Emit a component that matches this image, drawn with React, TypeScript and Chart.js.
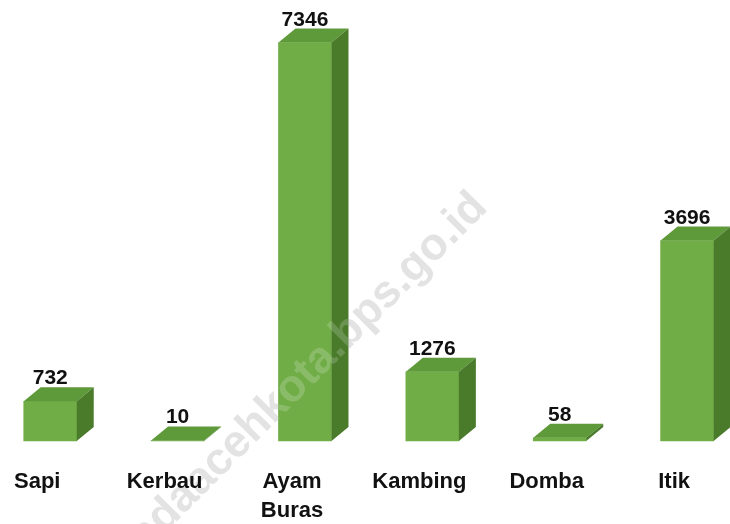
import React, { useEffect, useRef } from 'react';
import { Chart, registerables } from 'chart.js';

Chart.register(...registerables);

const categories: (string | string[])[] = ['Sapi', 'Kerbau', ['Ayam', 'Buras'], 'Kambing', 'Domba', 'Itik'];
const values: number[] = [732, 10, 7346, 1276, 58, 3696];
const watermarkText = 'bandaacehkota.bps.go.id';

const FONT = '"Liberation Sans", Arial, Helvetica, sans-serif';
const FRONT = '#70ad47';
const TOP = '#5e993a';
const SIDE = '#4a7b2b';

export default function App() {
  const ref = useRef<HTMLCanvasElement>(null);

  useEffect(() => {
    const DX = 17;
    const DY = 14;

    const drawWatermark = (ctx: CanvasRenderingContext2D, color: string) => {
      ctx.save();
      ctx.translate(489, 209);
      ctx.rotate((-45 * Math.PI) / 180);
      ctx.font = `bold 45px ${FONT}`;
      ctx.fillStyle = color;
      ctx.textAlign = 'right';
      ctx.textBaseline = 'alphabetic';
      ctx.fillText(watermarkText, 0, 0);
      ctx.restore();
    };

    const bar3d = {
      id: 'bar3d',
      beforeDraw(chart: any) {
        drawWatermark(chart.ctx, '#e3e3e3');
      },
      afterDatasetsDraw(chart: any) {
        const ctx = chart.ctx;
        const meta = chart.getDatasetMeta(0);
        ctx.save();
        meta.data.forEach((el: any) => {
          const { x, y, base, width } = el.getProps(['x', 'y', 'base', 'width'], true);
          const top = Math.min(y, base - 0.5);
          const l = x - width / 2;
          const r = x + width / 2;
          // top face
          ctx.fillStyle = TOP;
          ctx.beginPath();
          ctx.moveTo(l, top);
          ctx.lineTo(r, top);
          ctx.lineTo(r + DX, top - DY);
          ctx.lineTo(l + DX, top - DY);
          ctx.closePath();
          ctx.fill();
          // side face
          ctx.fillStyle = SIDE;
          ctx.beginPath();
          ctx.moveTo(r, top);
          ctx.lineTo(r + DX, top - DY);
          ctx.lineTo(r + DX, base - DY);
          ctx.lineTo(r, base);
          ctx.closePath();
          ctx.fill();
          // faint watermark over the bar
          ctx.save();
          ctx.beginPath();
          ctx.moveTo(l, base);
          ctx.lineTo(l, top);
          ctx.lineTo(l + DX, top - DY);
          ctx.lineTo(r + DX, top - DY);
          ctx.lineTo(r + DX, base - DY);
          ctx.lineTo(r, base);
          ctx.closePath();
          ctx.clip();
          drawWatermark(ctx, 'rgba(255,255,255,0.18)');
          ctx.restore();
        });
        meta.data.forEach((el: any, i: number) => {
          const { x, y, base } = el.getProps(['x', 'y', 'base'], true);
          const top = Math.min(y, base - 0.5);
          ctx.fillStyle = '#111111';
          ctx.font = `bold 21px ${FONT}`;
          ctx.textAlign = 'center';
          ctx.textBaseline = 'alphabetic';
          ctx.fillText(String(values[i]), x, top - DY - 3);
        });
        ctx.restore();
      },
    };

    const chart = new Chart(ref.current as HTMLCanvasElement, {
      type: 'bar',
      data: {
        labels: categories as any,
        datasets: [
          {
            data: values,
            backgroundColor: FRONT,
            borderWidth: 0,
            barThickness: 53,
            clip: false,
          },
        ],
      },
      options: {
        animation: false,
        responsive: false,
        devicePixelRatio: 1,
        layout: { padding: { left: 43.5, right: 36.5, top: 0, bottom: 0 } },
        plugins: { legend: { display: false }, tooltip: { enabled: false } },
        scales: {
          x: {
            offset: false,
            grid: { display: false, drawTicks: false },
            border: { display: false },
            ticks: {
              color: '#111111',
              font: { family: FONT, size: 22, weight: 'bold', lineHeight: 1.3 },
              padding: 27,
              labelOffset: -13,
              maxRotation: 0,
              minRotation: 0,
              autoSkip: false,
            },
            afterFit: (s: any) => {
              s.height = 83;
            },
          },
          y: { display: false, min: 0, max: 8130 },
        },
      } as any,
      plugins: [bar3d],
    });
    return () => chart.destroy();
  }, []);

  return (
    <canvas
      ref={ref}
      width={730}
      height={524}
      style={{ position: 'fixed', left: 0, top: 0, width: 730, height: 524 }}
    />
  );
}
